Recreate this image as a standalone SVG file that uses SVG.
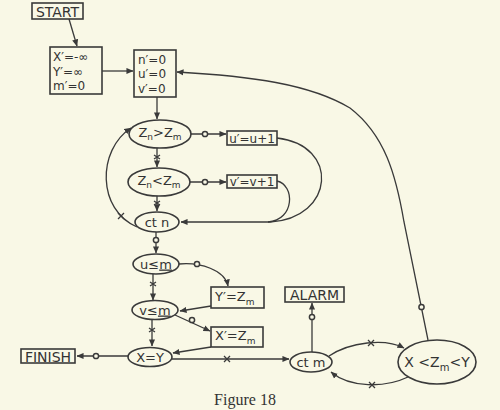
<svg xmlns="http://www.w3.org/2000/svg" width="500" height="410" viewBox="0 0 500 410">
<defs>
<marker id="arr" viewBox="0 0 8 8" refX="7.5" refY="4" markerWidth="7" markerHeight="7" markerUnits="userSpaceOnUse" orient="auto">
<path d="M0,0.5 L8,4 L0,7.5 Z" fill="#3a3a3a"/>
</marker>
</defs>
<style>
.bg{fill:#f9f8e6}
.n{fill:none;stroke:#3a3a3a;stroke-width:1.6}
.c{fill:none;stroke:#3a3a3a;stroke-width:1.3;marker-end:url(#arr)}
.p{fill:none;stroke:#3a3a3a;stroke-width:1.3}
.o{fill:#f9f8e6;stroke:#3a3a3a;stroke-width:1.5}
.x{fill:none;stroke:#3a3a3a;stroke-width:1.3}
text{font-family:"DejaVu Sans","Liberation Sans",sans-serif;fill:#333;font-size:13px}
.m{text-anchor:middle}
.s{font-size:9px}
.b{font-size:12px}
.cap{font-family:"Liberation Serif","Times New Roman",serif;font-size:16px;text-anchor:middle;fill:#333}
</style>
<rect class="bg" x="0" y="0" width="500" height="410"/>

<g id="connectors">
<path class="c" d="M69 19 L77 46"/>
<path class="c" d="M102 71 L133 71"/>
<path class="c" d="M428 340 L404 222 C396 175 385 135 350 108 C310 84 250 76 177 72"/>
<circle class="o" cx="421.5" cy="307" r="2.6"/>
<path class="c" d="M157 97 L157 119"/>
<path class="c" d="M191 134 L226 134"/>
<circle class="o" cx="205" cy="134" r="2.6"/>
<path class="c" d="M190 182 L226 182"/>
<circle class="o" cx="205" cy="182" r="2.6"/>
<path class="c" d="M157 148 L157 167"/>
<path class="x" d="M154 155 L160 159 M160 155 L154 159"/>
<path class="c" d="M157 196 L157 211"/>
<path class="x" d="M154 201 L160 205 M160 201 L154 205"/>
<path class="c" d="M277 138 C340 145 335 218 270 222 L181 222"/>
<path class="p" d="M277 181 C295 185 295 220 268 222"/>
<path class="c" d="M137 227 C97 210 97 150 131 128"/>
<path class="x" d="M118 213 L124 219 M124 213 L118 219"/>
<path class="c" d="M156 232 L156 253"/>
<circle class="o" cx="156" cy="240" r="2.6"/>
<path class="c" d="M153 274 L153 300"/>
<path class="x" d="M150 282 L156 286 M156 282 L150 286"/>
<path class="c" d="M152 319 L152 346"/>
<path class="x" d="M149 328 L155 332 M155 328 L149 332"/>
<path class="c" d="M179 264 C200 262 225 270 228 286"/>
<circle class="o" cx="197" cy="264" r="2.6"/>
<path class="c" d="M211 306 L180 311"/>
<path class="c" d="M175 315 L210 331"/>
<circle class="o" cx="192" cy="320" r="2.6"/>
<path class="c" d="M211 347 L173 353"/>
<path class="c" d="M128 356 L77 356"/>
<circle class="o" cx="96" cy="356" r="2.6"/>
<path class="c" d="M172 359 L289 359"/>
<path class="x" d="M224 356 L230 362 M230 356 L224 362"/>
<path class="c" d="M312 352 L312 303"/>
<circle class="o" cx="312" cy="317" r="2.6"/>
<path class="c" d="M329 356 C350 342 385 338 404 348"/>
<path class="x" d="M368 340 L374 346 M374 340 L368 346"/>
<path class="c" d="M408 377 C385 388 350 388 331 372"/>
<path class="x" d="M369 382 L375 388 M375 382 L369 388"/>
</g>

<g id="start">
<rect class="n" x="32" y="3" width="51" height="16"/>
<text class="m" x="57.5" y="16.5" style="font-size:14px">START</text>
</g>
<g id="init">
<rect class="n" x="50" y="47" width="52" height="47"/>
<text class="b" x="53" y="61">X′=-∞</text>
<text class="b" x="53" y="75.5">Y′=∞</text>
<text class="b" x="53" y="90">m′=0</text>
</g>
<g id="reset">
<rect class="n" x="134" y="50" width="42" height="47"/>
<text class="b" x="138" y="63.5">n′=0</text>
<text class="b" x="138" y="78">u′=0</text>
<text class="b" x="138" y="92.5">v′=0</text>
</g>
<g id="zgt">
<ellipse class="n" cx="160" cy="134" rx="31" ry="14"/>
<text class="m" x="160" y="137">Z<tspan class="s" dy="3">n</tspan><tspan dy="-3">&gt;Z</tspan><tspan class="s" dy="3">m</tspan></text>
</g>
<g id="uinc">
<rect class="n" x="227" y="131" width="50" height="14"/>
<text class="m" x="252" y="142.5" style="font-size:12px">u′=u+1</text>
</g>
<g id="zlt">
<ellipse class="n" cx="159" cy="182" rx="31" ry="14"/>
<text class="m" x="159" y="185">Z<tspan class="s" dy="3">n</tspan><tspan dy="-3">&lt;Z</tspan><tspan class="s" dy="3">m</tspan></text>
</g>
<g id="vinc">
<rect class="n" x="227" y="175" width="50" height="13"/>
<text class="m" x="252" y="186" style="font-size:12px">v′=v+1</text>
</g>
<g id="ctn">
<ellipse class="n" cx="157" cy="222" rx="22" ry="10"/>
<text class="m" x="157" y="226.5">ct n</text>
</g>
<g id="ulem">
<ellipse class="n" cx="156" cy="264" rx="23" ry="10"/>
<text class="m" x="156" y="268.5">u≤<tspan text-decoration="underline">m</tspan></text>
</g>
<g id="ybox">
<rect class="n" x="211" y="287" width="53" height="21"/>
<text x="215" y="301">Y′=Z<tspan class="s" dy="4">m</tspan></text>
</g>
<g id="vlem">
<ellipse class="n" cx="155" cy="310" rx="23" ry="9.5"/>
<text class="m" x="155" y="314.5">v≤<tspan text-decoration="underline">m</tspan></text>
</g>
<g id="xbox">
<rect class="n" x="211" y="327" width="52" height="20"/>
<text x="215" y="340">X′=Z<tspan class="s" dy="4">m</tspan></text>
</g>
<g id="xeqy">
<ellipse class="n" cx="150" cy="357" rx="22" ry="9.5"/>
<text class="m" x="150" y="361.5">X=Y</text>
</g>
<g id="finish">
<rect class="n" x="21" y="349" width="54" height="14"/>
<text class="m" x="48" y="361.5" style="font-size:14px">FINISH</text>
</g>
<g id="alarm">
<rect class="n" x="285" y="287" width="59" height="15"/>
<text class="m" x="314.5" y="300" style="font-size:14px">ALARM</text>
</g>
<g id="ctm">
<ellipse class="n" cx="311" cy="362" rx="21" ry="10"/>
<text class="m" x="311" y="366.5">ct m</text>
</g>
<g id="range">
<ellipse class="n" cx="437" cy="362" rx="39" ry="22"/>
<text class="m" x="437" y="367" style="font-size:14px">X &lt;Z<tspan class="s" style="font-size:10px" dy="4">m</tspan><tspan dy="-4">&lt;Y</tspan></text>
</g>
<text class="cap" x="245" y="405">Figure 18</text>
</svg>
